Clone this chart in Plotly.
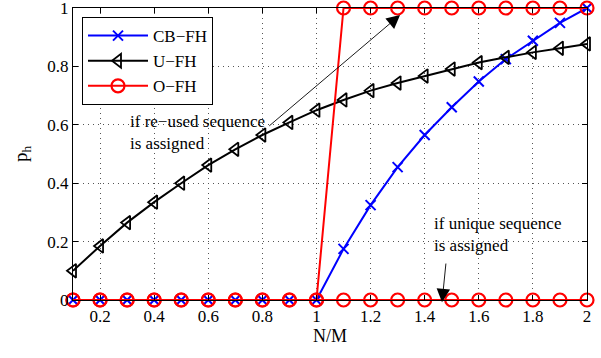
import plotly.graph_objects as go

x_vals = [round(0.1 * i, 1) for i in range(1, 21)]
cb_fh = [0, 0, 0, 0, 0, 0, 0, 0, 0, 0,
         0.175, 0.325, 0.455, 0.565, 0.66, 0.748, 0.825, 0.888, 0.949, 1.0]
u_fh = [0.1, 0.185, 0.265, 0.335, 0.40, 0.462, 0.516, 0.565, 0.608, 0.65,
        0.685, 0.717, 0.743, 0.767, 0.791, 0.813, 0.831, 0.848, 0.862, 0.877]
o_fh_reused = [0, 0, 0, 0, 0, 0, 0, 0, 0, 0,
               1, 1, 1, 1, 1, 1, 1, 1, 1, 1]
o_fh_unique = [0] * 20

x_ticks = [0.2, 0.4, 0.6, 0.8, 1, 1.2, 1.4, 1.6, 1.8, 2]
x_ticktext = ["0.2", "0.4", "0.6", "0.8", "1", "1.2", "1.4", "1.6", "1.8", "2"]
y_ticks = [0, 0.2, 0.4, 0.6, 0.8, 1]
y_ticktext = ["0", "0.2", "0.4", "0.6", "0.8", "1"]

FONT = "Liberation Serif"

fig = go.Figure()
fig.add_trace(go.Scatter(
    x=x_vals, y=cb_fh, name="CB\u2212FH", mode="lines+markers",
    line=dict(color="#0000ff", width=2),
    marker=dict(symbol="x-thin-open", size=10, color="#0000ff",
                line=dict(color="#0000ff", width=2)),
    cliponaxis=False))
fig.add_trace(go.Scatter(
    x=x_vals, y=u_fh, name="U\u2212FH", mode="lines+markers",
    line=dict(color="black", width=2),
    marker=dict(symbol="triangle-left-open", size=12, color="black",
                line=dict(color="black", width=1.8)),
    cliponaxis=False))
fig.add_trace(go.Scatter(
    x=x_vals, y=o_fh_reused, name="O\u2212FH", mode="lines+markers",
    line=dict(color="#ff0000", width=2),
    marker=dict(symbol="circle-open", size=13, color="#ff0000",
                line=dict(color="#ff0000", width=2.2)),
    cliponaxis=False))
fig.add_trace(go.Scatter(
    x=x_vals, y=o_fh_unique, name="O\u2212FH", mode="lines+markers",
    showlegend=False,
    line=dict(color="#ff0000", width=2),
    marker=dict(symbol="circle-open", size=13, color="#ff0000",
                line=dict(color="#ff0000", width=2.2)),
    cliponaxis=False))

axis_common = dict(
    showline=True, linecolor="black", linewidth=1.3, mirror="ticks",
    ticks="inside", ticklen=5, tickcolor="black", tickwidth=1,
    showgrid=True, gridcolor="#555555", griddash="1px,4px", gridwidth=1,
    zeroline=False, tickfont=dict(family=FONT, size=17, color="black"),
    ticklabeloverflow="allow", automargin=False,
)

fig.update_xaxes(range=[0.1, 2], tickvals=x_ticks, ticktext=x_ticktext,
                 title=dict(text="N/M", font=dict(family=FONT, size=18, color="black"),
                            standoff=3),
                 **axis_common)
fig.update_yaxes(range=[0, 1], tickvals=y_ticks, ticktext=y_ticktext,
                 title=dict(text="p<sub>h</sub>", font=dict(family=FONT, size=19, color="black"),
                            standoff=14),
                 **axis_common)

fig.add_annotation(x=1.309, y=0.976, ax=0.82, ay=0.592, xref="x", yref="y",
                   axref="x", ayref="y", showarrow=True, arrowhead=2,
                   arrowsize=3, arrowwidth=0.9, arrowcolor="black", text="")
fig.add_annotation(x=1.464, y=-0.008, ax=1.479, ay=0.13, xref="x", yref="y",
                   axref="x", ayref="y", showarrow=True, arrowhead=2,
                   arrowsize=3, arrowwidth=0.9, arrowcolor="black", text="")
fig.add_annotation(x=0.303, y=0.575, xref="x", yref="y", showarrow=False,
                   xanchor="left", yanchor="middle", align="left",
                   text="if re\u2212used sequence<br>is assigned",
                   font=dict(family=FONT, size=17, color="black"))
fig.add_annotation(x=1.427, y=0.223, xref="x", yref="y", showarrow=False,
                   xanchor="left", yanchor="middle", align="left",
                   text="if unique sequence<br>is assigned",
                   font=dict(family=FONT, size=17, color="black"))

fig.update_layout(
    width=601, height=358,
    margin=dict(l=73, r=14, t=8, b=58, autoexpand=False),
    paper_bgcolor="white", plot_bgcolor="white",
    showlegend=True,
    legend=dict(x=0.0175, y=0.969, xanchor="left", yanchor="top",
                bgcolor="white", bordercolor="black", borderwidth=1,
                font=dict(family=FONT, size=17, color="black"),
                itemwidth=60, tracegroupgap=0),
)

fig.write_html("out.html", config={"displayModeBar": False},
               post_script="document.body.style.margin='0';")
